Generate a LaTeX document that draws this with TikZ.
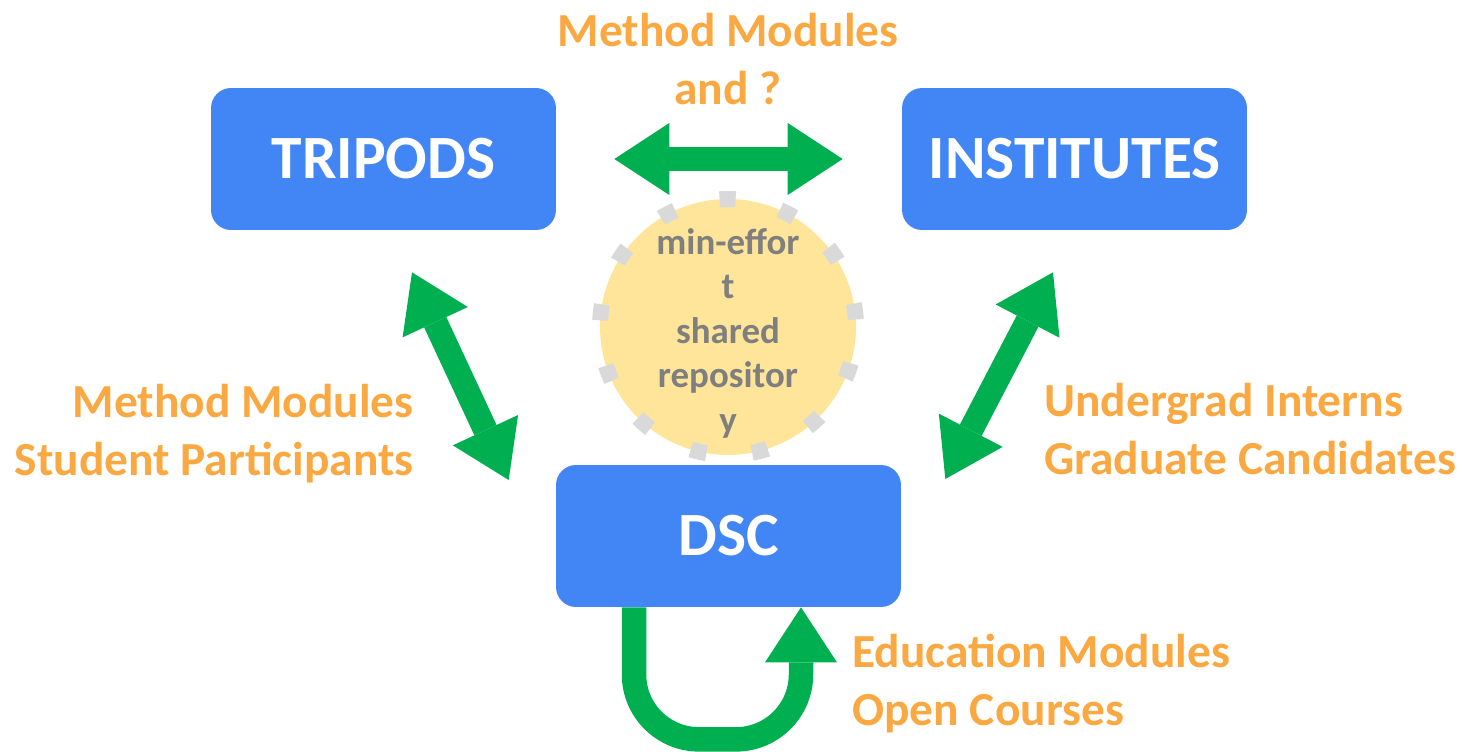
\documentclass[tikz,border=0pt]{standalone}
\usepackage{fontspec}
\setmainfont{Carlito}
\usetikzlibrary{arrows.meta,calc}
\definecolor{boxblue}{RGB}{66,133,244}
\definecolor{linkgreen}{RGB}{0,176,80}
\definecolor{noteorange}{RGB}{250,168,65}
\definecolor{hubyellow}{RGB}{255,229,153}
\definecolor{hubgray}{RGB}{217,217,217}
\definecolor{textgray}{RGB}{127,127,127}

\begin{document}
\begin{tikzpicture}[x=0.02cm,y=-0.02cm,
    fat/.tip={Triangle[length=1.1cm,width=1.44cm,line width=0pt]},
    box/.style={fill=boxblue,rounded corners=0.4cm,minimum width=6.9cm,minimum height=2.84cm,text=white,font=\fontsize{35}{42}\selectfont\bfseries},
    hub/.style={circle,fill=hubyellow,draw=hubgray,line width=0.32cm,dash pattern=on 0.32cm off 0.92cm,dash phase=1.09cm,minimum size=5.12cm,inner sep=-1cm,align=center,text=textgray,font=\fontsize{21}{25.3}\selectfont\bfseries},
    note/.style={text=noteorange,font=\fontsize{27}{33}\selectfont\bfseries,inner sep=0pt},
    link/.style={draw=linkgreen,line width=0.49cm,fat-fat}]
    \useasboundingbox (0,0) rectangle (1463,751);
    % the three groups
    \node[box] (trip) at (383.5,159) {TRIPODS};
    \node[box] (inst) at (1074.5,159) {INSTITUTES};
    \node[box] (dsc) at (728.5,536) {DSC};
    \node[hub] (repo) at (728,327) {\rule{0pt}{22pt}min-effor\\t\\shared\\repositor\\y};
    % what flows between them
    \node[note,align=center] (noteTop) at (728,59) {Method Modules\\and ?};
    \node[note,align=right,anchor=east] (noteLeft) at (414,434) {Method Modules\\Student Participants};
    \node[note,align=left,anchor=west] (noteRight) at (1044,429) {Undergrad Interns\\Graduate Candidates};
    \node[note,align=left,anchor=west] (noteBottom) at (852,684) {Education Modules\\Open Courses};
    \draw[link] ($(trip.east)+(58,0)$) -- ($(inst.west)+(-59,0)$);
    \draw[link] ($(trip.south)+(28.5,42)$) -- ($(dsc.west)+(-47,-56)$);
    \draw[link] ($(inst.south)+(-21.5,42)$) -- ($(dsc.east)+(44,-57)$);
    \draw[link,-fat,rounded corners=1.3cm] ($(dsc.south)+(-94.5,0)$) -- ++(0,132) -- ++(167,0) -- ++(0,-132);
\end{tikzpicture}
\end{document}
